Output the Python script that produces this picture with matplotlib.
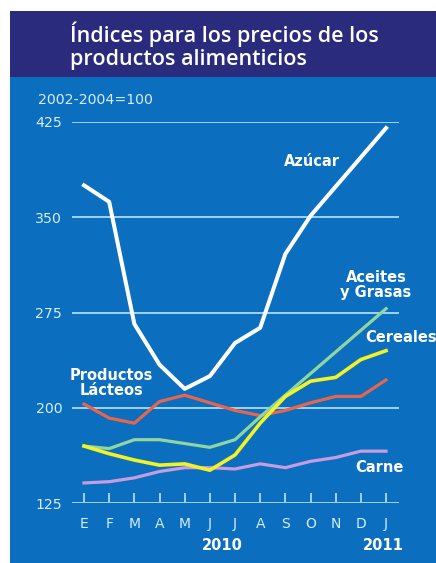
import matplotlib
matplotlib.use("Agg")
import matplotlib.pyplot as plt
from matplotlib.patches import Rectangle
from matplotlib.transforms import blended_transform_factory

plt.rcParams['font.family'] = ['DejaVu Sans']

months = ["E", "F", "M", "A", "M", "J", "J", "A", "S", "O", "N", "D", "J"]
azucar = [375, 362, 266, 234, 215, 225, 251, 263, 321, 351, 374, 397, 420]
aceites = [170, 168, 175, 175, 172, 169, 175, 193, 210, 227, 244, 261, 278]
cereales = [170, 164, 159, 155, 156, 151, 163, 188, 209, 221, 224, 238, 245]
lacteos = [203, 192, 188, 205, 210, 204, 198, 194, 198, 204, 209, 209, 222]
carne = [141, 142, 145, 150, 153, 153, 152, 156, 153, 158, 161, 166, 166]
yticks = [125, 200, 275, 350, 425]

W, H = 436, 563
fig = plt.figure(figsize=(W / 100, H / 100), dpi=100)
fig.patch.set_facecolor("white")

blue = "#0b6ebf"
navy = "#2a2b7d"
grid_c = "#9fd3f7"
label_c = "#d6ecff"

bg = fig.add_axes([0, 0, 1, 1], zorder=0)
bg.set_xlim(0, W)
bg.set_ylim(H, 0)
bg.axis("off")
bg.add_patch(Rectangle((9.5, 77), W, H - 77, facecolor=blue, edgecolor="none"))
bg.add_patch(Rectangle((9.5, 11), W, 66, facecolor=navy, edgecolor="none"))

bg.text(70, 34, "Índices para los precios de los", color="white",
        fontsize=15.5, fontweight="semibold", va="center", ha="left",
        family=["Open Sans", "DejaVu Sans"])
bg.text(70, 59, "productos alimenticios", color="white",
        fontsize=15.5, fontweight="semibold", va="center", ha="left",
        family=["Open Sans", "DejaVu Sans"])
bg.text(38, 100, "2002-2004=100", color=label_c, fontsize=10.2,
        va="center", ha="left")

x0, x1 = 72, 399
ytop, ybot = 121.7, 503.3
ax = fig.add_axes([x0 / W, (H - ybot) / H, (x1 - x0) / W, (ybot - ytop) / H], zorder=2)
ax.set_facecolor("none")
for s in ax.spines.values():
    s.set_visible(False)

step = 25.17
xs = list(range(len(months)))
ax.set_xlim((x0 - 84) / step, (x1 - 84) / step)
ax.set_ylim(125, 425)

for v in yticks:
    ax.axhline(v, color=grid_c, lw=1.4, zorder=1)

ax.set_yticks(yticks)
ax.set_yticklabels([str(v) for v in yticks])
ax.tick_params(axis="y", length=0, pad=7, labelsize=10.2, labelcolor=label_c)
ax.set_xticks(xs)
ax.set_xticklabels(months)
ax.tick_params(axis="x", direction="in", length=7, width=1.4, color=grid_c,
               pad=10, labelsize=10, labelcolor=label_c)

ax.plot(xs, carne, color="#c49ee0", lw=2.3, zorder=3)
ax.plot(xs, lacteos, color="#e6664c", lw=2.3, zorder=4)
ax.plot(xs, aceites, color="#8fd6a2", lw=2.3, zorder=4)
ax.plot(xs, cereales, color="#f2f226", lw=2.6, zorder=5)
ax.plot(xs, azucar, color="white", lw=2.9, zorder=6)

def px_to_data(px, py):
    return ((px - 84) / step, 125 + (ybot - py) * 300 / (ybot - ytop))

lab = dict(color="white", fontsize=10.5, fontweight="bold", zorder=7)
ax.text(*px_to_data(312, 162), "Azúcar", ha="center", va="center", **lab)
ax.text(*px_to_data(376, 285), "Aceites\ny Grasas", ha="center", va="center",
        linespacing=0.95, **lab)
ax.text(*px_to_data(365, 338), "Cereales", ha="left", va="center", clip_on=False, **lab)
ax.text(*px_to_data(379, 468), "Carne", ha="center", va="center", **lab)
ax.text(*px_to_data(111, 383), "Productos\nLácteos", ha="center", va="center",
        linespacing=0.95, **lab)

tr = blended_transform_factory(ax.transData, fig.transFigure)
ax.text(5.5, 1 - 546 / H, "2010", transform=tr, ha="center", va="center",
        color="white", fontsize=10.5, fontweight="bold")
ax.text(11.9, 1 - 546 / H, "2011", transform=tr, ha="center", va="center",
        color="white", fontsize=10.5, fontweight="bold")

fig.savefig("out.png", dpi=100)
